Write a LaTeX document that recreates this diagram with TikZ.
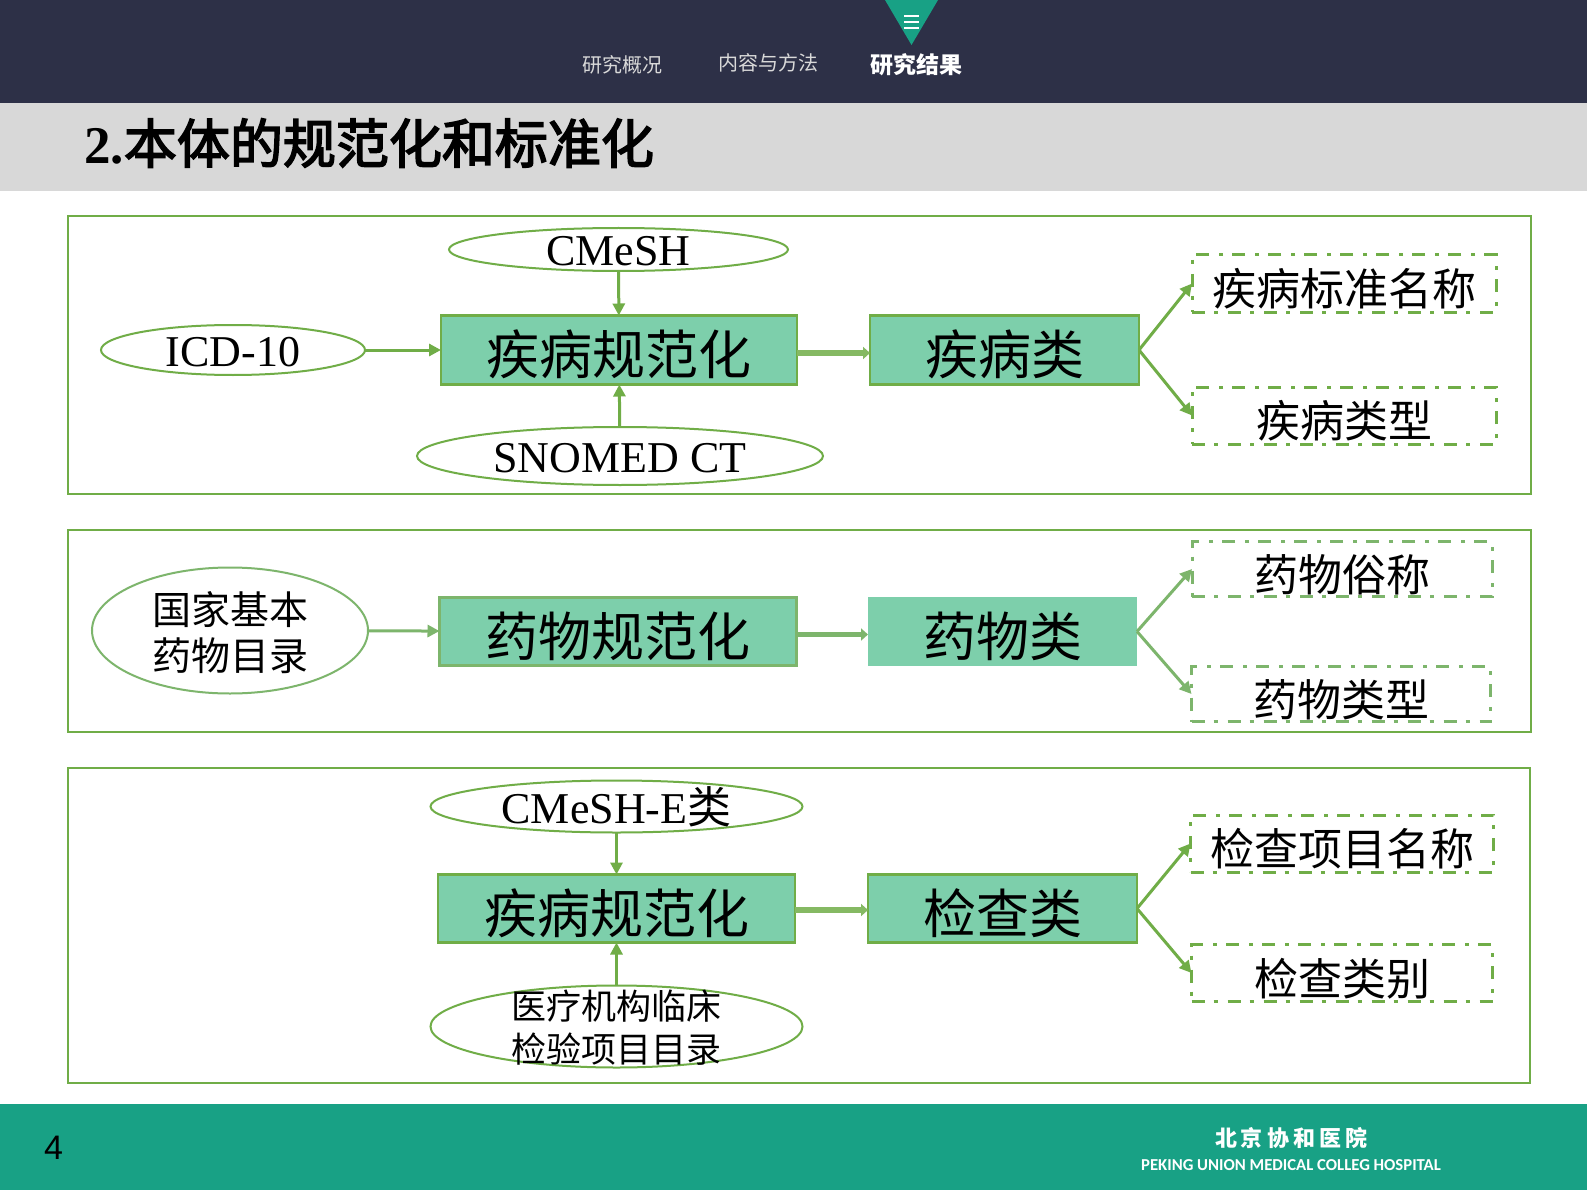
\documentclass[tikz,border=0pt]{standalone}
\usepackage{fontspec}
\setmainfont{Liberation Serif}
\newfontfamily\cjk{Noto Sans CJK SC}
\newfontfamily\cjkt[FakeBold=3]{Noto Sans CJK SC}
\newfontfamily\calb{Carlito}
\newfontfamily\arialf{Liberation Sans}
\usetikzlibrary{shapes.geometric,arrows.meta}
\definecolor{navy}{HTML}{2D3047}
\definecolor{teal1}{HTML}{18A185}
\definecolor{gbar}{HTML}{D8D8D8}
\definecolor{gr}{HTML}{70AD47}
\definecolor{grl}{HTML}{7DB56C}
\definecolor{mint}{HTML}{7DCFAB}
\tikzset{
  panel/.style={draw=gr,line width=2pt,fill=none},
  bx/.style={draw=gr,line width=2.5pt,fill=mint,inner sep=0pt,outer sep=0pt,text=black,font=\cjk\fontsize{53}{56}\selectfont,text height=49pt,text depth=0pt},
  oval/.style={ellipse,draw=gr,line width=2pt,inner sep=0pt,outer sep=0pt,fill=white},
  ovtext/.style={font=\fontsize{44}{48}\selectfont,text=black,align=center,yshift=-2pt},
  dbox/.style={draw=gr,line width=3pt,dash pattern=on 13pt off 9pt on 4pt off 10pt,inner sep=0pt,outer sep=0pt,text=black,font=\cjk\fontsize{44}{48}\selectfont,text height=44pt,text depth=0pt},
  conn/.style={draw=gr,line width=3pt,-{Triangle[length=12pt,width=12pt]}},
  thick conn/.style={draw=gr!85,line width=5.5pt,-{Triangle[length=7pt,width=12pt]}},
  nav/.style={font=\cjk\fontsize{20}{24}\selectfont,text=black!15},
}
\begin{document}
\begin{tikzpicture}[x=1pt,y=-1pt]
\useasboundingbox (0,0) rectangle (1587,1190);
\fill[white] (0,0) rectangle (1587,1190);
\fill[navy] (0,0) rectangle (1587,103);
\fill[gbar] (0,103) rectangle (1587,191);
\fill[teal1] (0,1104) rectangle (1587,1190);
\fill[teal1] (885,0) -- (938,0) -- (911.5,45) -- cycle;
\draw[white,line width=1.3pt] (904,16) -- (919,16) (904,22) -- (919,22) (904,28) -- (919,28);
\node[nav] (n1) at (622,64.5) {研究概况};
\node[nav] (n2) at (768,62.5) {内容与方法};
\node[font=\cjk\bfseries\fontsize{23}{26}\selectfont,text=white] (n3) at (916.5,65) {研究结果};
\node[anchor=west,inner sep=0pt,font=\bfseries\fontsize{53}{56}\selectfont] (title) at (84,143) {2.{\cjkt\mdseries 本体的规范化和标准化}};

% panels
\draw[panel] (67.5,216) rectangle (1531,494);
\draw[panel] (67.5,530) rectangle (1531,732);
\draw[panel] (67.5,768) rectangle (1530,1083);

% panel 1
\node[oval,minimum width=339pt,minimum height=43pt,label={[ovtext]center:CMeSH}] (a1) at (618.5,249.5) {};
\node[oval,minimum width=264pt,minimum height=50pt,label={[ovtext]center:ICD-10}] (a2) at (233,350) {};
\node[oval,minimum width=406pt,minimum height=58pt,label={[ovtext]center:SNOMED CT}] (a3) at (620,456) {};
\node[bx,minimum width=356pt,minimum height=69pt] (a4) at (619,350) {疾病规范化};
\node[bx,minimum width=269pt,minimum height=69pt] (a5) at (1004.5,350) {疾病类};
\node[dbox,minimum width=304pt,minimum height=57pt] (a6) at (1344,283.5) {疾病标准名称};
\node[dbox,minimum width=304pt,minimum height=57pt] (a7) at (1344,415.5) {疾病类型};
\draw[conn] (a1) -- (a4);
\draw[conn] (a2) -- (a4);
\draw[conn] (a3) -- (a4);
\draw[thick conn] ([yshift=-3pt]a4.east) -- ([yshift=-3pt]a5.west);
\draw[conn] (a5.east) -- (a6.west);
\draw[conn] (a5.east) -- (a7.west);

% panel 2
\node[oval,draw=grl,minimum width=276pt,minimum height=126pt,label={[ovtext,yshift=-0.5pt,font=\cjk\fontsize{39}{46}\selectfont]center:国家基本\\药物目录}] (b1) at (230,630.5) {};
\node[bx,draw=grl,minimum width=357pt,minimum height=68pt] (b2) at (618,631.5) {药物规范化};
\node[bx,draw=none,minimum width=269pt,minimum height=69pt] (b3) at (1002.5,631.5) {药物类};
\node[dbox,draw=grl,minimum width=300pt,minimum height=55pt] (b4) at (1342,569) {药物俗称};
\node[dbox,draw=grl,minimum width=299pt,minimum height=55pt] (b5) at (1341,694) {药物类型};
\draw[conn,draw=grl] (b1) -- (b2);
\draw[thick conn,draw=grl] ([yshift=-3pt]b2.east) -- ([yshift=-3pt]b3.west);
\draw[conn,draw=grl] (b3.east) -- (b4.west);
\draw[conn,draw=grl] (b3.east) -- (b5.west);

% panel 3
\node[oval,minimum width=372pt,minimum height=52pt,label={[ovtext,yshift=2pt]center:CMeSH-E{\cjk 类}}] (c1) at (616.5,806.5) {};
\node[bx,minimum width=357pt,minimum height=68pt] (c2) at (616.5,908.5) {疾病规范化};
\node[bx,minimum width=269pt,minimum height=68pt] (c3) at (1002.5,908.5) {检查类};
\node[oval,minimum width=372pt,minimum height=82pt,label={[ovtext,yshift=0.5pt,font=\cjk\fontsize{35}{43}\selectfont]center:医疗机构临床\\检验项目目录}] (c4) at (616.5,1026.5) {};
\node[dbox,minimum width=303pt,minimum height=57pt] (c5) at (1342,843.5) {检查项目名称};
\node[dbox,minimum width=301pt,minimum height=57pt] (c6) at (1342,973) {检查类别};
\draw[conn] (c1) -- (c2);
\draw[conn] (c4) -- (c2);
\draw[thick conn] ([yshift=-1.5pt]c2.east) -- ([yshift=-1.5pt]c3.west);
\draw[conn] (c3.east) -- (c5.west);
\draw[conn] (c3.east) -- (c6.west);

% footer
\node[anchor=west,inner sep=0pt,font=\arialf\fontsize{34}{38}\selectfont,text=black] (pg) at (44,1148) {4};
\node[font=\cjk\bfseries\fontsize{22}{26}\selectfont,text=white] (hn) at (1291,1138) {北\hspace{4pt}京\hspace{4pt}协\hspace{4pt}和\hspace{4pt}医\hspace{4pt}院};
\node[font=\calb\bfseries\fontsize{16.7}{20}\selectfont,text=white] (he) at (1291,1165) {PEKING UNION MEDICAL COLLEG HOSPITAL};
\end{tikzpicture}
\end{document}
